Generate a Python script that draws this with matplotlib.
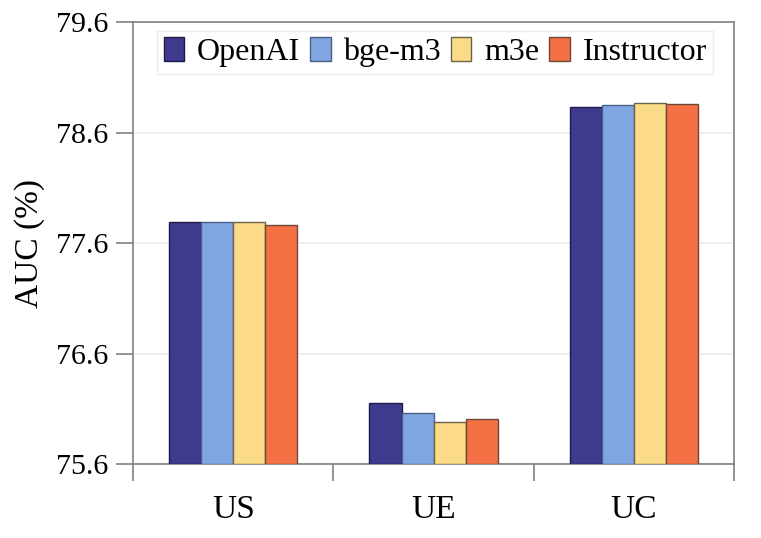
import matplotlib.pyplot as plt
import numpy as np

plt.rcParams['font.family'] = ['Liberation Serif', 'DejaVu Serif']

categories = ["US", "UE", "UC"]
models = ["OpenAI", "bge-m3", "m3e", "Instructor"]
openai = [77.79, 76.15, 78.83]
bge_m3 = [77.79, 76.06, 78.85]
m3e = [77.79, 75.98, 78.87]
instructor = [77.76, 76.01, 78.86]
colors = ["#3F3A8E", "#7FA6E0", "#FBDB87", "#F47045"]
edges = ["#1e1b4a", "#4a5f85", "#6b6348", "#6b4a3a"]

fig = plt.figure(figsize=(7.61, 5.38), dpi=100)
ax = fig.add_axes([0.175, 0.1375, 0.7895, 0.8215])

x = np.arange(len(categories))
w = 0.16
series = [openai, bge_m3, m3e, instructor]
for i, vals in enumerate(series):
    base = 75.6
    ax.bar(x + (i - 1.5) * w, np.array(vals) - base, w, bottom=base,
           color=colors[i], edgecolor=edges[i], linewidth=1.0,
           label=models[i], zorder=3)

ax.set_xlim(-0.5, 2.5)
ax.set_ylim(75.6, 79.6)
ax.set_yticks([75.6, 76.6, 77.6, 78.6, 79.6])
ax.set_yticklabels(["75.6", "76.6", "77.6", "78.6", "79.6"])
ax.yaxis.grid(True, color="#ebebeb", linewidth=1.2, zorder=0)
ax.set_xticks(x)
ax.set_xticklabels(categories)
ax.set_xticks([-0.5, 0.5, 1.5, 2.5], minor=True)
ax.tick_params(axis="x", which="major", length=0, pad=22, labelsize=24)
ax.tick_params(axis="x", which="minor", length=12, width=1.2, color="#808080", direction="out")
ax.tick_params(axis="y", length=12, width=1.2, color="#808080", direction="out", labelsize=21.5, pad=6)
for s in ax.spines.values():
    s.set_color("#808080")
    s.set_linewidth(1.2)

ax.set_ylabel("AUC (%)", fontsize=24, labelpad=8)

leg = ax.legend(loc="upper left", bbox_to_anchor=(0.04, 0.98), ncol=4,
                fontsize=23, frameon=True, fancybox=False, handlelength=0.65,
                handleheight=0.75, handletextpad=0.4, columnspacing=0.3,
                borderpad=0.2, borderaxespad=0.0)
leg.get_frame().set_edgecolor("#e8e8e8")
leg.get_frame().set_linewidth(1.0)

fig.savefig("out.png", dpi=100)
